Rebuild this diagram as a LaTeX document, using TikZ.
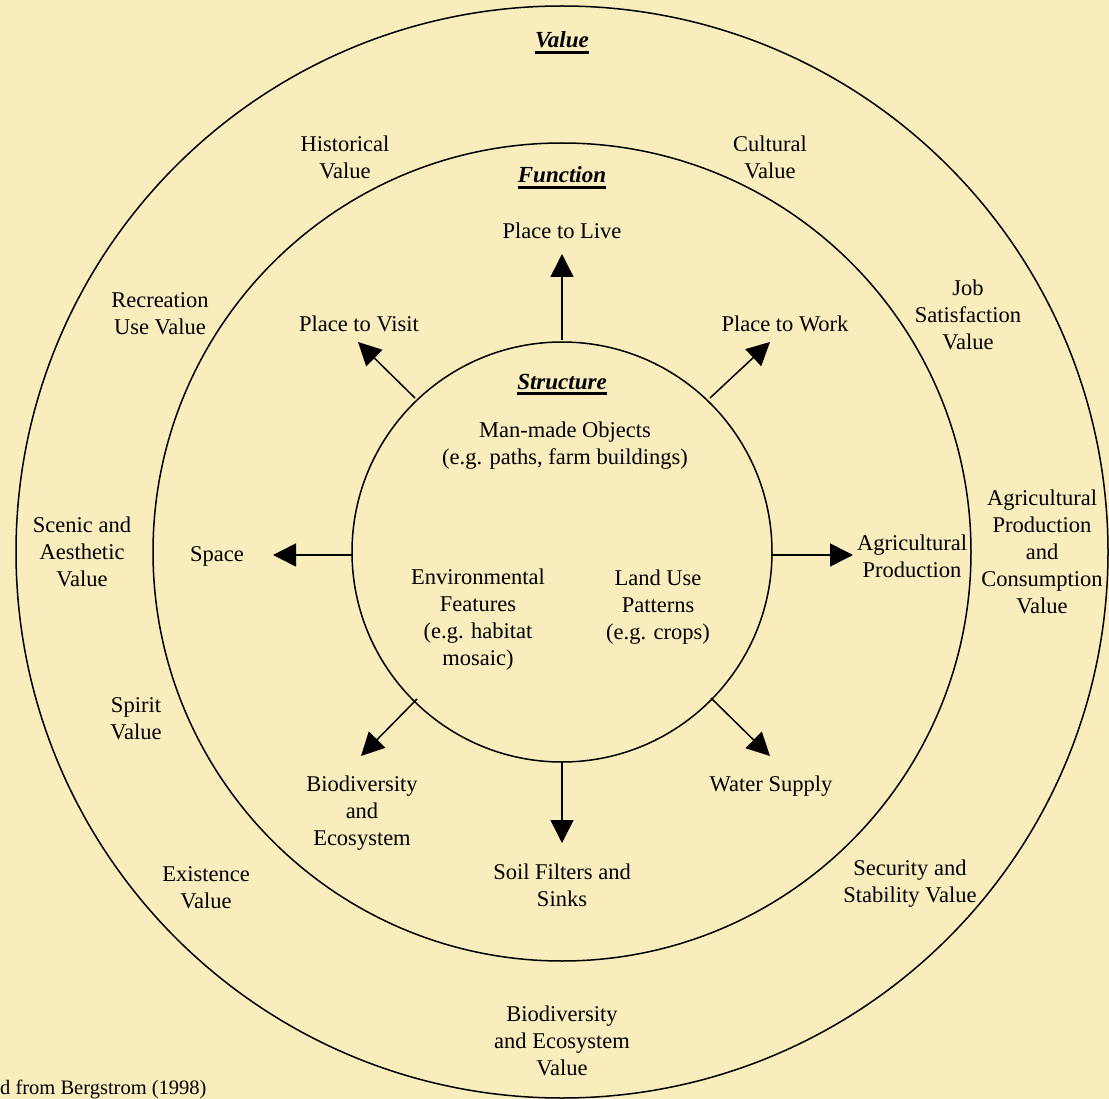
\documentclass[tikz,border=0pt]{standalone}
\usepackage{fontspec}
\setmainfont{Liberation Serif}
\usetikzlibrary{arrows.meta}
\definecolor{bg}{RGB}{249,237,190}
\tikzset{
  lbl/.style={align=center,inner sep=0pt,font=\fontsize{22.5}{27}\selectfont},
  ttl/.style={inner sep=0pt,font=\fontsize{23}{27}\selectfont\bfseries\itshape},
  ring/.style={draw=black,line width=1.5pt},
  arr/.style={line width=1.5pt,-{Triangle[length=23pt,width=23pt]}},
  uline/.style={line width=3pt}
}
\begin{document}
\begin{tikzpicture}[x=1pt,y=-1pt]
\fill[bg] (0,0) rectangle (1109,1099);
\useasboundingbox (0,0) rectangle (1109,1099);
\clip (0,0) rectangle (1109,1099);
% rings
\node[ring,circle,minimum size=1092pt,inner sep=0pt] (outer) at (562,552) {};
\node[ring,circle,minimum size=818pt,inner sep=0pt] (middle) at (562,552) {};
\node[ring,circle,minimum size=420pt,inner sep=0pt] (inner) at (562,552) {};
% titles
\node[ttl,anchor=base] (tval) at (562,48) {Value};
\draw[uline] ([yshift=-5pt]tval.base west) -- ([yshift=-5pt]tval.base east);
\node[ttl,anchor=base] (tfun) at (562,183) {Function};
\draw[uline] ([yshift=-5pt]tfun.base west) -- ([yshift=-5pt]tfun.base east);
\node[ttl,anchor=base] (tstr) at (562,389) {Structure};
\draw[uline] ([yshift=-5pt]tstr.base west) -- ([yshift=-5pt]tstr.base east);
% value ring labels
\node[lbl] (hist) at (345,157) {Historical\\Value};
\node[lbl] (cult) at (770,157) {Cultural\\Value};
\node[lbl] (recr) at (160,314) {Recreation\\Use Value};
\node[lbl] (job) at (968,315) {Job\\Satisfaction\\Value};
\node[lbl] (scen) at (82,552) {Scenic and\\Aesthetic\\Value};
\node[lbl] (agcv) at (1042,552) {Agricultural\\Production\\and\\Consumption\\Value};
\node[lbl] (spir) at (136,719) {Spirit\\Value};
\node[lbl] (exis) at (206,888) {Existence\\Value};
\node[lbl] (secu) at (910,884) {Security and\\Stability Value};
\node[lbl] (biov) at (562,1041) {Biodiversity\\and Ecosystem\\Value};
% function ring labels
\node[lbl] (live) at (562,231) {Place to Live};
\node[lbl] (visit) at (359,324) {Place to Visit};
\node[lbl] (work) at (785,324) {Place to Work};
\node[lbl] (space) at (217,556) {Space};
\node[lbl] (agri) at (912,556) {Agricultural\\Production};
\node[lbl] (bio) at (362,813) {Biodiversity\\and\\Ecosystem};
\node[lbl] (soil) at (562,885) {Soil Filters and\\Sinks};
\node[lbl] (water) at (771,786) {Water Supply};
% structure labels
\node[lbl] (man) at (565,446) {Man-made Objects\\(e.g. paths, farm buildings)};
\node[lbl] (env) at (478,620) {Environmental\\Features\\(e.g. habitat\\mosaic)};
\node[lbl] (land) at (658,607) {Land Use\\Patterns\\(e.g. crops)};
% source
\node[inner sep=0pt,font=\fontsize{20.5}{24}\selectfont,anchor=base west] (src) at (0,1094) {d from Bergstrom (1998)};
% arrows
\coordinate (sN) at (562,340);  \coordinate (tN) at (562,254);
\coordinate (sNW) at (415,398); \coordinate (tNW) at (358,342);
\coordinate (sNE) at (710,398); \coordinate (tNE) at (770,342);
\coordinate (sW) at (353,555);  \coordinate (tW) at (273,555);
\coordinate (sE) at (772,555);  \coordinate (tE) at (853,555);
\coordinate (sSW) at (417,699); \coordinate (tSW) at (361,756);
\coordinate (sS) at (562,762);  \coordinate (tS) at (562,843);
\coordinate (sSE) at (711,698); \coordinate (tSE) at (770,756);
\draw[arr] (sN) -- (tN);
\draw[arr] (sNW) -- (tNW);
\draw[arr] (sNE) -- (tNE);
\draw[arr] (sW) -- (tW);
\draw[arr] (sE) -- (tE);
\draw[arr] (sSW) -- (tSW);
\draw[arr] (sS) -- (tS);
\draw[arr] (sSE) -- (tSE);
\end{tikzpicture}
\end{document}
